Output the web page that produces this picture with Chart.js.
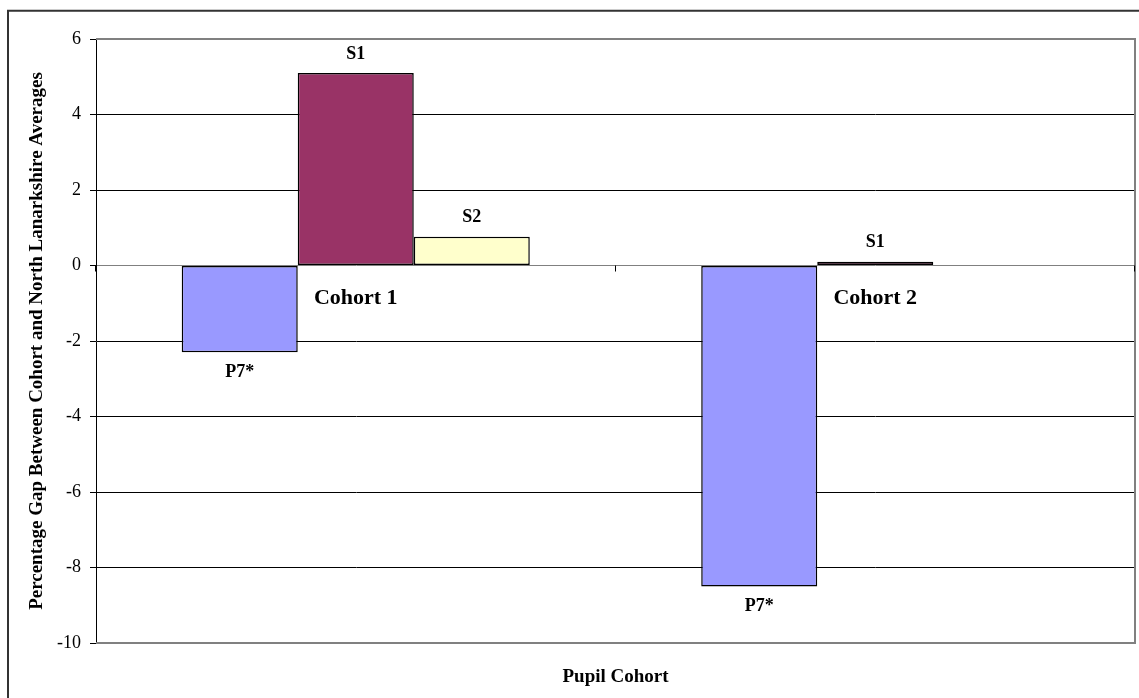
<!DOCTYPE html>
<html>
<head>
<meta charset="utf-8">
<title>Pupil Cohort gap</title>
<script src="https://cdn.jsdelivr.net/npm/chart.js@4/dist/chart.umd.min.js"></script>
<style>
  body { margin: 0; background: #fff; }
  canvas { display: block; }
</style>
</head>
<body>
<canvas id="gapChart" width="1139" height="698"></canvas>
<script>
// data
const cohorts = ["Cohort 1", "Cohort 2"];
const seriesNames = ["P7*", "S1", "S2"];
const p7Values = [-2.3, -8.5];
const s1Values = [5.1, 0.1];
const s2Values = [0.76, null];
const yMin = -10;
const yMax = 6;
const yStep = 2;

const seriesColors = ["#9999FF", "#993366", "#FFFFCC"];
const serif = "'Liberation Serif', 'Times New Roman', serif";

// labels, borders and category ticks excel style
const excelBits = {
  id: "excelBits",
  afterDraw(chart) {
    const ctx = chart.ctx;
    const area = chart.chartArea;
    const xs = chart.scales.x;
    const ys = chart.scales.y;
    const zero = ys.getPixelForValue(0);
    ctx.save();

    // plot area border (top, right, bottom)
    ctx.strokeStyle = "#808080";
    ctx.lineWidth = 2;
    ctx.beginPath();
    ctx.moveTo(area.left, area.top);
    ctx.lineTo(area.right, area.top);
    ctx.lineTo(area.right, area.bottom);
    ctx.lineTo(area.left, area.bottom);
    ctx.stroke();

    // outer chart border, only left and top show
    ctx.strokeStyle = "#333";
    ctx.lineWidth = 2;
    ctx.beginPath();
    ctx.moveTo(8, 800);
    ctx.lineTo(8, 10.8);
    ctx.lineTo(1200, 10.8);
    ctx.stroke();

    // tick marks between categories on the zero line
    ctx.strokeStyle = "#000";
    ctx.lineWidth = 1;
    const step = (xs.right - xs.left) / cohorts.length;
    for (let k = 0; k <= cohorts.length; k++) {
      const tx = Math.round(xs.left + k * step) - 0.5;
      ctx.beginPath();
      ctx.moveTo(tx, zero);
      ctx.lineTo(tx, zero + 6);
      ctx.stroke();
    }

    // series names above / below bars
    ctx.fillStyle = "#000";
    ctx.textAlign = "center";
    ctx.textBaseline = "middle";
    ctx.font = "bold 18px " + serif;
    chart.data.datasets.forEach((ds, i) => {
      const meta = chart.getDatasetMeta(i);
      meta.data.forEach((bar, j) => {
        const v = ds.data[j];
        if (v === null || v === undefined) return;
        const ly = v >= 0 ? bar.y - 19 : bar.y + 20;
        ctx.fillText(ds.label, bar.x, ly);
      });
    });

    // category labels sit under the zero line
    ctx.font = "bold 22px " + serif;
    cohorts.forEach((c, j) => {
      ctx.fillText(c, xs.getPixelForValue(j), zero + 33);
    });
    ctx.restore();
  }
};

new Chart(document.getElementById("gapChart"), {
  type: "bar",
  data: {
    labels: cohorts,
    datasets: [
      { label: seriesNames[0], data: p7Values, backgroundColor: seriesColors[0] },
      { label: seriesNames[1], data: s1Values, backgroundColor: seriesColors[1] },
      { label: seriesNames[2], data: s2Values, backgroundColor: seriesColors[2] }
    ]
  },
  options: {
    responsive: false,
    animation: false,
    layout: { padding: { top: 39, right: 4, left: 0, bottom: 0 } },
    datasets: {
      bar: {
        borderColor: "#000",
        borderWidth: 1.5,
        borderSkipped: false,
        categoryPercentage: 0.67,
        barPercentage: 1
      }
    },
    plugins: {
      legend: { display: false },
      tooltip: { enabled: false }
    },
    scales: {
      x: {
        ticks: { display: false },
        grid: { display: false },
        border: { display: false },
        title: {
          display: true,
          text: "Pupil Cohort",
          color: "#000",
          font: { family: serif, size: 19, weight: "bold" },
          padding: { top: 0, bottom: 10 }
        },
        afterFit(scale) { scale.height = 55; }
      },
      y: {
        min: yMin,
        max: yMax,
        ticks: {
          stepSize: yStep,
          color: "#000",
          padding: 9,
          font: { family: serif, size: 18 }
        },
        grid: {
          color: (c) => (c.tick && c.tick.value === 0 ? "#808080" : "#000"),
          tickColor: "#000",
          tickLength: 6,
          lineWidth: 1
        },
        border: { display: true, color: "#000", width: 1 },
        title: {
          display: true,
          text: "Percentage Gap Between Cohort and North Lanarkshire Averages",
          color: "#000",
          font: { family: serif, size: 19, weight: "bold" },
          padding: { top: 26, bottom: 0 }
        },
        afterFit(scale) { scale.width = 96; }
      }
    }
  },
  plugins: [excelBits]
});
</script>
</body>
</html>
